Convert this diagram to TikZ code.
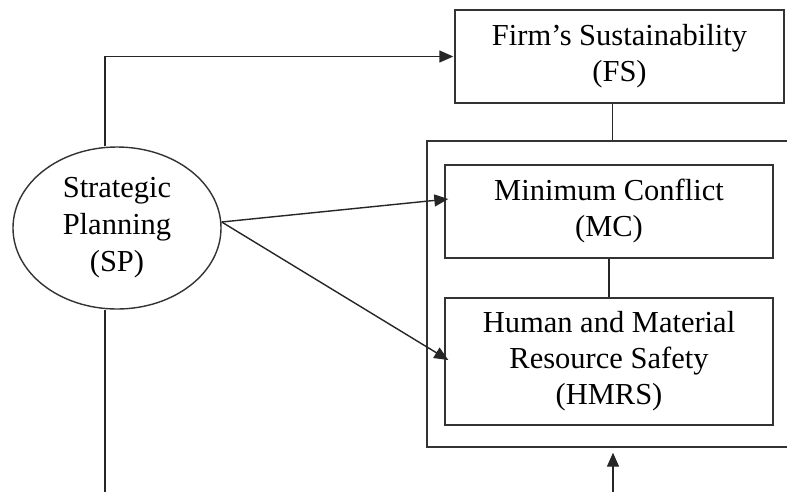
\documentclass[tikz,border=0pt]{standalone}
\usepackage{fontspec}
\setmainfont{Liberation Serif}
\usetikzlibrary{arrows.meta,shapes.geometric}
\begin{document}
\begin{tikzpicture}[x=1pt,y=-1pt,
  line width=1.4pt,
  boxstyle/.style={draw=black!80,rectangle,align=center,inner sep=0pt,
    font=\fontsize{30.5}{36}\selectfont},
  ovalstyle/.style={draw=black!80,ellipse,align=center,inner sep=0pt,
    font=\fontsize{30.5}{37}\selectfont},
  conn/.style={draw=black!85},
  arr/.style={conn,-{Triangle[length=14pt,width=12pt]}}]
\clip (0,0) rectangle (787,491);
\fill[white] (0,0) rectangle (787,491);
\node[boxstyle,minimum width=329pt,minimum height=93pt] (FS) at (619.5,56.5) {Firm’s Sustainability\\(FS)};
\node[draw=black!80,rectangle,minimum width=373pt,minimum height=306pt] (outer) at (613.5,294) {};
\node[boxstyle,minimum width=328pt,minimum height=93pt] (MC) at (609,211.5) {Minimum Conflict\\(MC)};
\node[boxstyle,minimum width=328pt,minimum height=127pt] (HMRS) at (609,361.5) {Human and Material\\Resource Safety\\(HMRS)};
\node[ovalstyle,minimum width=208pt,minimum height=162pt] (SP) at (117,228) {Strategic\\Planning\\(SP)};
\coordinate (bot1) at (105,495);
\coordinate (bot2) at (613,495);
\draw[arr] ([xshift=-12pt]SP.north) |- ([xshift=-1pt]FS.west);
\draw[conn] ([xshift=-7pt]FS.south) -- ([xshift=-7pt]FS.south |- outer.north);
\draw[conn] (MC.south) -- (HMRS.north);
\draw[arr] ([yshift=6pt]SP.east) -- ([xshift=4pt,yshift=12.5pt]MC.west);
\draw[arr] ([yshift=6pt]SP.east) -- ([xshift=4pt,yshift=1.5pt]HMRS.west);
\draw[conn] ([xshift=-12pt]SP.south) -- (bot1);
\draw[arr] (bot2) -- ([yshift=-5pt]bot2 |- outer.south);
\end{tikzpicture}
\end{document}
